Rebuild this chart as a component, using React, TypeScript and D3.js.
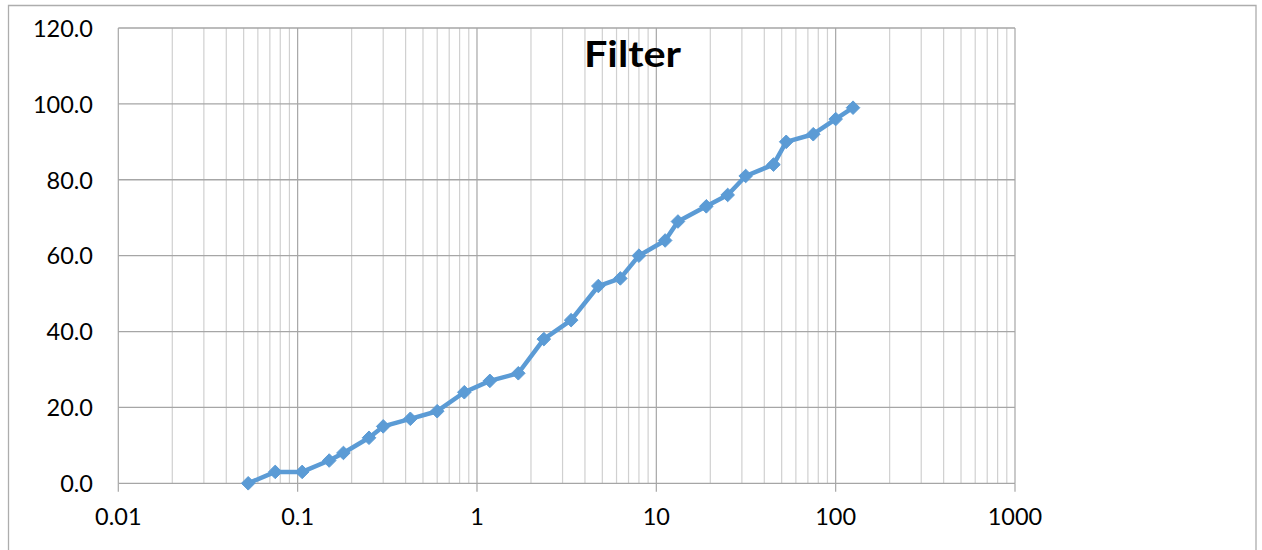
import React, { useLayoutEffect, useRef } from "react";
import * as d3 from "d3";

const sieveSizes = [0.053, 0.075, 0.106, 0.15, 0.18, 0.25, 0.3, 0.425, 0.6, 0.85, 1.18, 1.7, 2.36, 3.35, 4.75, 6.3, 8, 11.2, 13.2, 19, 25, 31.5, 45, 53, 75, 100, 125];
const percentPassing = [0, 3, 3, 6, 8, 12, 15, 17, 19, 24, 27, 29, 38, 43, 52, 54, 60, 64, 69, 73, 76, 81, 84, 90, 92, 96, 99];
const yTicks = [0, 20, 40, 60, 80, 100, 120];
const xMajorTicks = [0.01, 0.1, 1, 10, 100, 1000];
const xTickLabels = ["0.01", "0.1", "1", "10", "100", "1000"];
const title = "Filter";

const W = 1262;
const H = 550;
const plot = { left: 118.3, right: 1015, top: 28, bottom: 483.3 };
const titleX = 632.5;
const titleY = 67.3;
const titleWidth = 98;

export default function App() {
  const titleRef = useRef<SVGTextElement>(null);
  const x = d3.scaleLog().domain([0.01, 1000]).range([plot.left, plot.right]);
  const y = d3.scaleLinear().domain([0, 120]).range([plot.bottom, plot.top]);
  const allTicks = x.ticks();
  const minor = allTicks.filter((t) => Math.abs(Math.log10(t) - Math.round(Math.log10(t))) > 1e-9);
  const pts = sieveSizes.map((s, i) => [s, percentPassing[i]] as [number, number]);
  const line = d3.line<[number, number]>().x((d) => x(d[0])).y((d) => y(d[1]));
  const fmt = d3.format(".1f");
  const font = "Lato, 'Open Sans', sans-serif";

  useLayoutEffect(() => {
    const el = titleRef.current;
    if (!el) return;
    const w = el.getBBox().width;
    if (w > 0) {
      const s = titleWidth / w;
      el.setAttribute("transform", `translate(${titleX},${titleY}) scale(${s},1)`);
    }
  }, []);

  return (
    <div style={{ position: "absolute", left: 0, top: 0, width: W, height: H, background: "#fff" }}>
      <svg width={W} height={H} style={{ display: "block" }}>
        <rect x={0} y={0} width={W} height={H} fill="#fff" />
        <path d={`M8.5,${H + 2} V5.5 H1256 V${H + 2}`} fill="none" stroke="#adadad" strokeWidth={1.3} />
        {minor.map((t, i) => (
          <line key={"mn" + i} x1={x(t)} x2={x(t)} y1={plot.top} y2={plot.bottom} stroke="#d0d0d0" strokeWidth={1.2} />
        ))}
        {xMajorTicks.map((t, i) => (
          <line key={"mj" + i} x1={x(t)} x2={x(t)} y1={plot.top} y2={plot.bottom} stroke="#a6a6a6" strokeWidth={1.2} />
        ))}
        {yTicks.map((t, i) => (
          <line key={"h" + i} x1={plot.left} x2={plot.right} y1={y(t)} y2={y(t)} stroke="#a6a6a6" strokeWidth={1.3} />
        ))}
        {xMajorTicks.map((t, i) => (
          <line key={"xt" + i} x1={x(t)} x2={x(t)} y1={plot.bottom} y2={plot.bottom + 8.5} stroke="#a6a6a6" strokeWidth={1.2} />
        ))}
        {yTicks.map((t, i) => (
          <text key={"yl" + i} x={93} y={y(t) + 8.8} textAnchor="end" fontFamily={font} fontSize={23.5} fill="#000">
            {fmt(t)}
          </text>
        ))}
        {xMajorTicks.map((t, i) => (
          <text key={"xl" + i} x={x(t)} y={525} textAnchor="middle" fontFamily={font} fontSize={23.5} fill="#000">
            {xTickLabels[i]}
          </text>
        ))}
        <text ref={titleRef} x={0} y={0} transform={`translate(${titleX},${titleY})`} textAnchor="middle" fontFamily="Lato, sans-serif" fontWeight="bold" fontSize={35.5} fill="#000">
          {title}
        </text>
        <path d={line(pts) || ""} fill="none" stroke="#5b9bd5" strokeWidth={4.5} strokeLinejoin="round" strokeLinecap="round" />
        {pts.map((d, i) => {
          const cx = x(d[0]);
          const cy = y(d[1]);
          const r = 6.8;
          return <path key={"m" + i} d={`M${cx},${cy - r} L${cx + r},${cy} L${cx},${cy + r} L${cx - r},${cy} Z`} fill="#5b9bd5" stroke="#5b9bd5" strokeWidth={1} />;
        })}
      </svg>
    </div>
  );
}
